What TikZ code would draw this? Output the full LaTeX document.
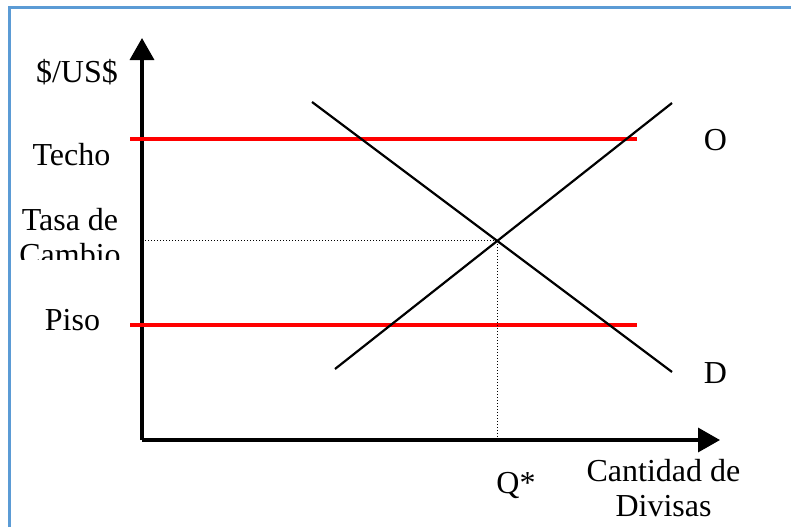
\documentclass[tikz,border=0pt]{standalone}
\usepackage{fontspec}
\setmainfont{Liberation Serif}
\usetikzlibrary{arrows.meta,intersections}
\definecolor{frameblue}{RGB}{91,155,213}

\begin{document}
\begin{tikzpicture}[x=1pt,y=-1pt,
    axis/.style={line width=3.5pt,-{Triangle[length=22pt,width=24pt]}},
    band/.style={red,line width=4pt},
    curve/.style={black,line width=2.2pt},
    guide/.style={black,line width=1pt,dotted},
    label/.style={font=\fontsize{32}{35}\selectfont,inner sep=0pt,anchor=base}
]
    \useasboundingbox (0,0) rectangle (791,527);
    \draw[frameblue,line width=3pt] (9,527) -- (9,8) -- (791,8);

    % axes
    \coordinate (origin) at (142,440);
    \coordinate (ytip) at (142,38);
    \coordinate (xtip) at (720,440);
    \draw[axis] (origin) -- (ytip);
    \draw[axis] (origin) -- (xtip);

    % techo y piso
    \coordinate (techo-a) at (130,139);
    \coordinate (techo-b) at (637,139);
    \coordinate (piso-a) at (130,325);
    \coordinate (piso-b) at (637,325);
    \draw[band] (techo-a) -- (techo-b);
    \draw[band] (piso-a) -- (piso-b);

    % oferta y demanda
    \coordinate (supply-a) at (335,369);
    \coordinate (supply-b) at (672,103);
    \coordinate (demand-a) at (312,102);
    \coordinate (demand-b) at (672,372);
    \draw[curve,name path=supply] (supply-a) -- (supply-b);
    \draw[curve,name path=demand] (demand-a) -- (demand-b);
    \path[name intersections={of=supply and demand,by=eq}];

    \coordinate (eq-y) at (origin |- eq);
    \coordinate (eq-x) at (origin -| eq);
    \draw[guide] (eq-y) -- (eq);
    \draw[guide] (eq) -- (eq-x);

    % textos
    \node[label] (ylabel) at (77,82) {\$/US\$};
    \node[label] (techo) at (71.5,165) {Techo};
    \begin{scope}
        \clip (0,0) rectangle (140,259);
        \node[label,align=center] (tasa) at (70,265) {Tasa de\\Cambio};
    \end{scope}
    \node[label] (piso) at (72.5,330) {Piso};
    \node[label] (oferta) at (715.5,150) {O};
    \node[label] (demanda) at (715.5,383) {D};
    \node[label] (qstar) at (516,493) {Q*};
    \node[label,align=center] (xlabel) at (663.5,516) {Cantidad de\\Divisas};

\end{tikzpicture}
\end{document}
